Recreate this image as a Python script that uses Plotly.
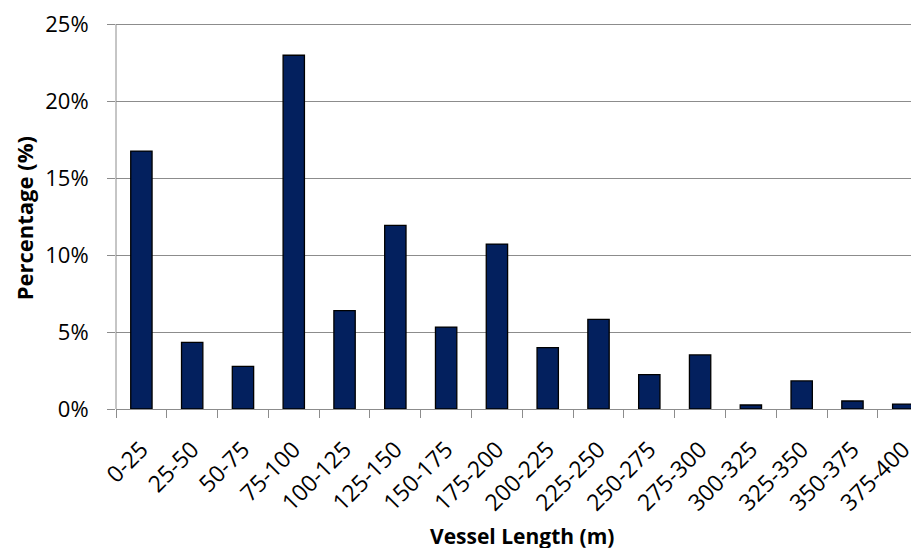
import plotly.graph_objects as go

categories = ["0-25", "25-50", "50-75", "75-100", "100-125", "125-150", "150-175",
              "175-200", "200-225", "225-250", "250-275", "275-300", "300-325",
              "325-350", "350-375", "375-400"]
percentages = [16.75, 4.33, 2.77, 22.97, 6.39, 11.93, 5.32, 10.71, 3.99, 5.82,
               2.23, 3.51, 0.26, 1.82, 0.52, 0.32]
y_ticks = [0, 5, 10, 15, 20, 25]
y_tick_labels = ["0%", "5%", "10%", "15%", "20%", "25%"]

FONT = "Open Sans"
GRID = "#8c8c8c"

fig = go.Figure(go.Bar(
    x=categories, y=percentages,
    marker=dict(color="#03205E", line=dict(color="#000000", width=1.3)),
))

# page body has an 8px margin, so the figure is offset by (8, 8) in the window
fig.update_layout(
    width=911, height=540,
    margin=dict(l=108, r=0, t=12, b=139, autoexpand=False),
    paper_bgcolor="white", plot_bgcolor="white",
    bargap=0.58, showlegend=False,
    font=dict(family=FONT, color="#000000"),
)
fig.update_xaxes(
    range=[-0.5, 15.31], type="category", automargin=False,
    showline=True, linecolor=GRID, linewidth=1,
    ticks="outside", tickson="boundaries", ticklen=8, tickcolor=GRID,
    tickangle=-45, tickfont=dict(size=23, family=FONT),
    ticklabelstandoff=17,
    showgrid=False,
)
fig.update_yaxes(
    range=[0, 25.26], tickvals=y_ticks, ticktext=y_tick_labels, automargin=False,
    showline=False,
    ticks="outside", ticklen=8, tickcolor=GRID,
    showgrid=True, gridcolor=GRID, gridwidth=1.3,
    tickfont=dict(size=22, family=FONT),
    ticklabelstandoff=14, ticklabeloverflow="allow",
    zeroline=False,
)
# vertical axis line spanning 0% to 25%
fig.add_shape(type="line", xref="paper", yref="y", x0=0, x1=0,
              y0=y_ticks[0], y1=y_ticks[-1], line=dict(color=GRID, width=1))
fig.add_annotation(
    text="<b>Percentage (%)</b>", xref="paper", yref="paper",
    x=-0.1146, y=0.49, xanchor="center", yanchor="middle", textangle=-90,
    showarrow=False, font=dict(size=22, family=FONT),
)
fig.add_annotation(
    text="<b>Vessel Length (m)</b>", xref="paper", yref="paper",
    x=0.5056, y=-0.286, xanchor="center", yanchor="top",
    showarrow=False, font=dict(size=21, family=FONT),
)

fig.write_html("out.html")
